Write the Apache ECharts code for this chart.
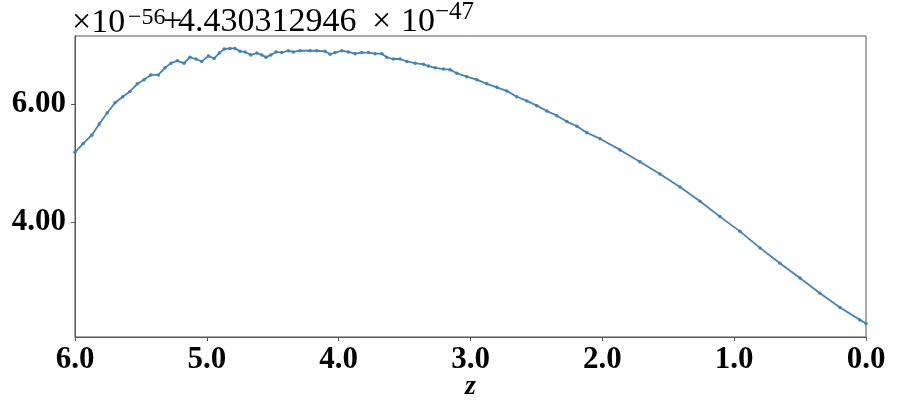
<!DOCTYPE html>
<html>
<head>
<meta charset="utf-8">
<script src="https://cdn.jsdelivr.net/npm/echarts@6/dist/echarts.min.js"></script>
<style>
html, body { margin: 0; padding: 0; background: #fff; }
#chart { width: 897px; height: 414px; }
</style>
</head>
<body>
<div id="chart"></div>
<script>
// redshift samples, left to right = high z to low z
var zVals = [6.000, 5.937, 5.873, 5.816, 5.755, 5.696, 5.638, 5.583, 5.527, 5.476,
    5.426, 5.368, 5.317, 5.272, 5.224, 5.173, 5.127, 5.082, 5.039, 4.988,
    4.945, 4.905, 4.869, 4.824, 4.786, 4.748, 4.710, 4.667, 4.621, 4.583,
    4.551, 4.515, 4.475, 4.432, 4.382, 4.344, 4.293, 4.217, 4.166, 4.103,
    4.065, 4.027, 3.976, 3.926, 3.875, 3.825, 3.774, 3.724, 3.673, 3.635,
    3.585, 3.534, 3.483, 3.420, 3.357, 3.319, 3.268, 3.205, 3.155, 3.104,
    3.028, 2.952, 2.876, 2.800, 2.725, 2.649, 2.573, 2.497, 2.421, 2.345,
    2.269, 2.193, 2.117, 2.018, 1.866, 1.715, 1.563, 1.411, 1.259, 1.108,
    0.956, 0.804, 0.653, 0.501, 0.349, 0.197, 0.046, 0.000];
// values in units of 1e-56, offset by 4.430312946e-47
var yVals = [5.18, 5.33, 5.47, 5.66, 5.85, 6.02, 6.12, 6.21, 6.34, 6.41,
    6.49, 6.49, 6.61, 6.69, 6.73, 6.69, 6.79, 6.76, 6.72, 6.81,
    6.77, 6.86, 6.93, 6.94, 6.94, 6.89, 6.88, 6.83, 6.86, 6.83,
    6.79, 6.83, 6.88, 6.87, 6.90, 6.88, 6.90, 6.90, 6.90, 6.89,
    6.84, 6.87, 6.90, 6.88, 6.85, 6.87, 6.87, 6.85, 6.85, 6.79,
    6.76, 6.76, 6.72, 6.69, 6.67, 6.64, 6.61, 6.59, 6.58, 6.52,
    6.46, 6.41, 6.34, 6.28, 6.22, 6.12, 6.05, 5.97, 5.88, 5.80,
    5.70, 5.62, 5.51, 5.41, 5.22, 5.02, 4.81, 4.59, 4.35, 4.09,
    3.84, 3.56, 3.30, 3.05, 2.79, 2.55, 2.34, 2.28];
var yTicks = [4, 6];

var serif = '"Liberation Serif", "DejaVu Serif", serif';
var points = zVals.map(function (z, i) { return [z, yVals[i]]; });

function txt(x, y, s, size) {
    return {
        type: 'text',
        style: {
            x: x, y: y, text: s,
            font: size + 'px ' + serif,
            fill: '#000',
            textAlign: 'left',
            textVerticalAlign: 'bottom'
        }
    };
}

var chart = echarts.init(document.getElementById('chart'));
var option = {
    animation: false,
    grid: {
        left: 75, right: 31, top: 36, bottom: 77,
        show: true, borderColor: '#555', borderWidth: 1
    },
    // matplotlib style offset text above the axes
    graphic: [
        txt(72, 40, '×10', 34),
        txt(128, 30, '−56', 24),
        txt(163, 39, '+', 34),
        txt(178, 39, '4.430312946', 34),
        txt(372, 39, '×', 34),
        txt(401, 39, '10', 34),
        txt(435, 25, '−47', 25)
    ],
    xAxis: {
        type: 'value',
        inverse: true,
        min: 0, max: 6, interval: 1,
        name: 'z',
        nameLocation: 'middle',
        nameGap: 36,
        nameMoveOverlap: false,
        nameTextStyle: { fontFamily: serif, fontSize: 28, fontStyle: 'italic', fontWeight: 'bold', color: '#000' },
        axisLine: { show: true, onZero: false, lineStyle: { color: '#555' } },
        axisTick: { show: true, length: 4, lineStyle: { color: '#555' } },
        axisLabel: {
            fontFamily: serif, fontSize: 31, fontWeight: 'bold', color: '#000', margin: 7,
            formatter: function (v) { return v.toFixed(1); }
        },
        splitLine: { show: false }
    },
    yAxis: {
        type: 'value',
        min: 2.05, max: 7.15,
        axisLine: { show: true, onZero: false, lineStyle: { color: '#555' } },
        axisTick: { show: true, length: 4, customValues: yTicks, lineStyle: { color: '#555' } },
        axisLabel: {
            customValues: yTicks,
            fontFamily: serif, fontSize: 31, fontWeight: 'bold', color: '#000', margin: 9,
            formatter: function (v) { return v.toFixed(2); }
        },
        splitLine: { show: false }
    },
    series: [{
        type: 'line',
        data: points,
        symbol: 'circle',
        symbolSize: 3.5,
        showAllSymbol: true,
        lineStyle: { color: '#4682b4', width: 1.8 },
        itemStyle: { color: '#4682b4' }
    }]
};
chart.setOption(option);
</script>
</body>
</html>
